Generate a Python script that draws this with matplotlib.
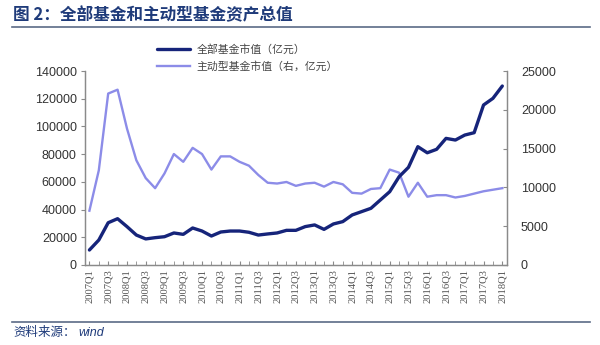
import matplotlib.pyplot as plt
from matplotlib.lines import Line2D
import numpy as np

plt.rcParams['font.family'] = ['Liberation Sans', 'Noto Sans CJK SC', 'DejaVu Sans']

# quarters 2007Q1 .. 2018Q1
quarters = [f"{y}Q{q}" for y in range(2007, 2019) for q in range(1, 5)][:45]

# 全部基金市值（亿元）, left axis
all_funds = [10800, 18000, 30500, 33400, 27700, 21600, 18800, 19700, 20400, 23100,
             22100, 26700, 24500, 20900, 23800, 24500, 24500, 23600, 21600, 22400,
             23100, 25000, 25000, 27700, 28900, 25700, 29600, 31300, 36100, 38500,
             40900, 46900, 52900, 63700, 70500, 85400, 81000, 83500, 91400, 90200,
             93800, 95500, 115500, 120300, 129200]

# 主动型基金市值（右，亿元）, right axis
active_funds = [7000, 12200, 22100, 22600, 17600, 13500, 11200, 9900, 11800, 14300,
                13300, 15100, 14300, 12300, 14000, 14000, 13300, 12800, 11600, 10600,
                10500, 10700, 10200, 10500, 10600, 10100, 10700, 10400, 9300, 9200,
                9800, 9900, 12300, 11900, 8800, 10600, 8800, 9000, 9000, 8700,
                8900, 9200, 9500, 9700, 9900]

dark = '#16247A'
light = '#8C8CE8'
grey = '#8A8A8A'
cjk = ['Noto Sans CJK SC', 'DejaVu Sans']

fig = plt.figure(figsize=(6, 3.45), dpi=100)
ax = fig.add_axes([0.142, 0.232, 0.703, 0.562])
ax2 = ax.twinx()
ax.set_zorder(ax2.get_zorder() + 1)
ax.patch.set_visible(False)

x = np.arange(len(quarters))
l1, = ax.plot(x, all_funds, color=dark, lw=2.4, solid_capstyle='round', label='全部基金市值（亿元）')
l2, = ax2.plot(x, active_funds, color=light, lw=1.7, label='主动型基金市值（右，亿元）')

ax.set_xlim(-0.45, 44.5)
ax.set_ylim(0, 140000)
ax2.set_ylim(0, 25000)
ax.set_yticks(np.arange(0, 140001, 20000))
ax2.set_yticks(np.arange(0, 25001, 5000))

ax.set_xticks(x[::2])
ax.set_xticklabels(quarters[::2], rotation=90, fontsize=7.6, family='Liberation Serif', color='#555555')
ax.set_xticks(x, minor=True)
ax.tick_params(axis='x', which='both', direction='in', length=3, color=grey, pad=3)

ax.tick_params(axis='y', direction='out', length=3, color=grey, labelsize=9, labelcolor='#333333', pad=3)
ax2.tick_params(axis='y', direction='in', length=3, color=grey, labelsize=9, labelcolor='#333333', pad=10)

for a in (ax, ax2):
    a.spines['top'].set_visible(False)
    for s in ('left', 'right', 'bottom'):
        a.spines[s].set_color(grey)
        a.spines[s].set_linewidth(0.9)

leg = fig.legend(handles=[l1, l2], loc='upper left', bbox_to_anchor=(0.255, 0.885),
                 frameon=False, fontsize=7.8, handlelength=3.0, handletextpad=0.6,
                 labelspacing=0.55, borderaxespad=0)
for t in leg.get_texts():
    t.set_color('#444444')
    t.set_family(cjk)

fig.text(0.022, 0.957, '图 2：全部基金和主动型基金资产总值', fontsize=12, fontweight='bold',
         color='#1F3B7A', family=cjk, va='center')
fig.add_artist(Line2D([0.02, 0.983], [0.922, 0.922], color='#5B6B86', lw=1.2))
fig.add_artist(Line2D([0.02, 0.983], [0.067, 0.067], color='#5B6B86', lw=1.2))
fig.text(0.022, 0.035, '资料来源：', fontsize=9, color='#1F3B7A', family=cjk, va='center')
fig.text(0.13, 0.035, 'wind', fontsize=9, style='italic', color='#1F3B7A',
         family='Liberation Sans', va='center')

fig.savefig('out.png', dpi=100)
